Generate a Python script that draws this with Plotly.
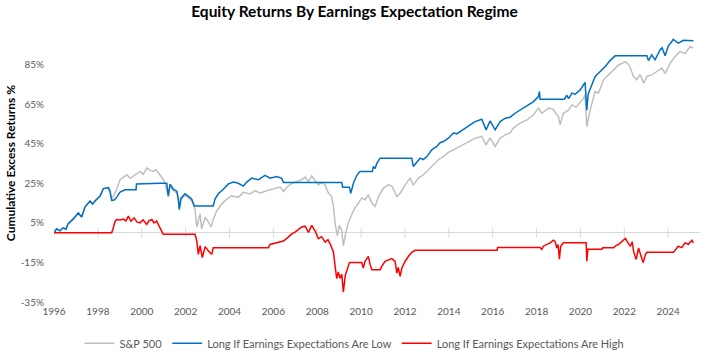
import plotly.graph_objects as go

# ---- data (decimal year, cumulative %) ----
sp_years = [1996.0, 1996.12, 1996.27, 1996.42, 1996.55, 1996.64, 1996.88, 1997.11, 1997.26, 1997.41,
            1997.64, 1997.76, 1997.87, 1998.10, 1998.25, 1998.48, 1998.55, 1998.63, 1998.70, 1998.86,
            1999.01, 1999.32, 1999.47, 1999.69, 1999.92, 2000.06, 2000.23, 2000.38, 2000.53, 2000.65,
            2000.83, 2000.98, 2001.06, 2001.21, 2001.29, 2001.44, 2001.60, 2001.67, 2001.71, 2001.79,
            2001.97, 2002.12, 2002.28, 2002.40, 2002.43, 2002.51, 2002.66, 2002.73, 2002.89, 2003.04,
            2003.16, 2003.26, 2003.42, 2003.65, 2003.88, 2004.10, 2004.40, 2004.63, 2004.94, 2005.17,
            2005.39, 2005.62, 2005.85, 2006.08, 2006.31, 2006.46, 2006.61, 2006.84, 2007.07, 2007.29,
            2007.45, 2007.60, 2007.75, 2007.90, 2008.05, 2008.20, 2008.36, 2008.51, 2008.66, 2008.74,
            2008.81, 2008.92, 2009.01, 2009.12, 2009.19, 2009.31, 2009.42, 2009.57, 2009.72, 2009.88,
            2010.03, 2010.18, 2010.33, 2010.49, 2010.64, 2010.79, 2011.02, 2011.24, 2011.41, 2011.63,
            2011.78, 2012.01, 2012.23, 2012.38, 2012.61, 2012.84, 2013.07, 2013.30, 2013.52, 2013.75,
            2013.98, 2014.21, 2014.44, 2014.66, 2014.89, 2015.20, 2015.50, 2015.70, 2015.88, 2016.11,
            2016.34, 2016.57, 2016.79, 2016.94, 2017.25, 2017.56, 2017.86, 2018.08, 2018.24, 2018.39,
            2018.54, 2018.75, 2019.00, 2019.07, 2019.22, 2019.45, 2019.61, 2019.80, 2019.99, 2020.14,
            2020.21, 2020.29, 2020.44, 2020.67, 2020.82, 2021.05, 2021.28, 2021.51, 2021.74, 2022.05,
            2022.23, 2022.42, 2022.57, 2022.72, 2022.88, 2023.03, 2023.25, 2023.48, 2023.71, 2023.86,
            2024.09, 2024.31, 2024.54, 2024.77, 2025.00, 2025.15]
sp_values = [0.0, 2.0, 1.0, 2.5, 1.8, 4.5, 7.0, 10.0, 8.0, 13.0,
             16.0, 14.5, 16.0, 18.6, 22.3, 22.8, 21.0, 17.0, 18.4, 22.0,
             26.8, 29.3, 27.5, 29.0, 31.0, 29.5, 32.7, 31.5, 31.0, 32.0,
             29.3, 27.0, 25.0, 18.0, 23.7, 21.2, 20.2, 16.2, 11.2, 16.7,
             18.9, 17.7, 16.2, 12.7, 12.0, 2.9, 9.6, 2.0, 7.9, 5.4,
             2.9, 7.0, 11.0, 14.6, 17.0, 18.7, 17.9, 20.4, 19.6, 21.3,
             20.0, 21.0, 21.7, 22.6, 23.1, 20.9, 23.0, 25.0, 25.9, 26.8,
             28.1, 25.9, 28.8, 26.5, 24.2, 25.5, 24.2, 20.0, 18.3, 13.3,
             5.0, -1.5, 3.7, 1.1, -6.5, 0.3, 5.0, 9.2, 12.6, 15.0,
             17.6, 16.7, 19.2, 15.0, 13.3, 18.3, 22.6, 24.2, 23.5, 18.3,
             20.0, 24.2, 27.6, 24.2, 27.6, 29.3, 31.8, 34.3, 36.9, 38.5,
             40.6, 41.9, 43.3, 44.4, 46.1, 47.8, 48.7, 44.4, 48.0, 43.6,
             47.8, 49.5, 50.4, 52.9, 55.4, 57.0, 59.6, 63.0, 60.4, 61.5,
             63.0, 62.5, 58.5, 54.5, 60.4, 62.0, 64.6, 63.5, 66.3, 68.0,
             69.7, 53.7, 62.0, 71.4, 70.5, 77.3, 79.8, 82.3, 84.8, 86.5,
             84.5, 79.0, 77.3, 80.0, 75.6, 79.0, 79.8, 81.5, 83.2, 80.5,
             85.7, 89.0, 91.6, 90.5, 94.1, 93.3]

low_years = [1996.0, 1996.12, 1996.27, 1996.42, 1996.55, 1996.64, 1996.88, 1997.11, 1997.26, 1997.41,
             1997.64, 1997.76, 1997.87, 1998.10, 1998.25, 1998.48, 1998.55, 1998.63, 1998.74, 1998.86,
             1999.01, 1999.24, 1999.74, 1999.76, 2000.83, 2001.14, 2001.21, 2001.29, 2001.44, 2001.60,
             2001.67, 2001.71, 2001.79, 2001.97, 2002.12, 2002.28, 2002.40, 2003.26, 2003.34, 2003.49,
             2003.72, 2003.95, 2004.18, 2004.40, 2004.63, 2004.79, 2005.01, 2005.32, 2005.62, 2005.85,
             2006.16, 2006.38, 2006.46, 2009.12, 2009.16, 2009.47, 2009.53, 2009.65, 2009.80, 2009.95,
             2010.51, 2010.56, 2010.64, 2010.72, 2010.87, 2012.31, 2012.38, 2012.54, 2012.69, 2012.83,
             2013.00, 2013.22, 2013.45, 2013.60, 2013.75, 2013.98, 2014.21, 2014.36, 2014.51, 2014.74,
             2014.97, 2015.20, 2015.50, 2015.70, 2015.88, 2016.11, 2016.34, 2016.57, 2016.79, 2017.02,
             2017.25, 2017.56, 2017.86, 2018.08, 2018.13, 2018.16, 2019.27, 2019.38, 2019.46, 2019.61,
             2019.76, 2019.99, 2020.14, 2020.21, 2020.29, 2020.35, 2020.44, 2020.67, 2020.90, 2021.13,
             2021.35, 2021.58, 2023.03, 2023.10, 2023.25, 2023.40, 2023.63, 2023.72, 2023.86, 2024.01,
             2024.16, 2024.23, 2024.46, 2024.70, 2025.15]
low_values = [0.0, 2.0, 1.0, 2.5, 1.8, 4.5, 7.0, 10.0, 8.0, 13.0,
              16.0, 14.5, 16.0, 18.6, 22.3, 22.8, 21.0, 16.3, 16.5, 18.0,
              20.5, 21.7, 21.7, 24.7, 25.0, 25.0, 18.7, 24.5, 22.0, 21.0,
              17.0, 12.0, 17.5, 19.7, 18.5, 17.0, 13.5, 13.5, 17.0, 19.7,
              22.0, 24.7, 25.6, 25.0, 23.6, 25.6, 27.6, 26.8, 29.0, 27.6,
              28.4, 27.5, 25.4, 25.4, 23.0, 23.0, 19.9, 25.0, 28.9, 30.9,
              30.9, 33.5, 32.5, 35.2, 37.7, 37.7, 33.5, 35.5, 37.7, 37.0,
              38.5, 41.9, 43.6, 45.5, 46.1, 47.8, 50.4, 50.0, 51.2, 52.9,
              54.5, 56.2, 57.4, 52.0, 56.5, 52.0, 56.2, 57.9, 58.4, 60.4,
              62.0, 64.1, 66.3, 68.8, 71.4, 67.5, 67.5, 69.5, 67.8, 70.6,
              70.0, 72.2, 74.7, 76.0, 62.0, 70.0, 72.5, 79.0, 81.5, 84.0,
              87.0, 89.4, 89.4, 87.0, 89.9, 87.4, 92.4, 93.5, 89.5, 94.5,
              96.5, 97.8, 95.8, 97.3, 97.1]

high_years = [1996.0, 1998.55, 1998.63, 1998.70, 1998.78, 1998.86, 1999.01, 1999.16, 1999.28, 1999.39,
              1999.51, 1999.65, 1999.78, 1999.92, 2000.06, 2000.23, 2000.33, 2000.46, 2000.56, 2000.68,
              2000.83, 2000.98, 2002.43, 2002.51, 2002.58, 2002.66, 2002.76, 2002.89, 2003.04, 2003.19,
              2003.26, 2005.77, 2005.85, 2006.16, 2006.46, 2006.68, 2006.84, 2006.99, 2007.29, 2007.45,
              2007.60, 2007.75, 2007.90, 2008.05, 2008.20, 2008.36, 2008.49, 2008.62, 2008.74, 2008.81,
              2008.89, 2008.96, 2009.04, 2009.12, 2009.19, 2009.28, 2009.37, 2009.47, 2010.03, 2010.10,
              2010.18, 2010.33, 2010.41, 2010.49, 2010.87, 2010.94, 2011.09, 2011.24, 2011.40, 2011.55,
              2011.63, 2011.69, 2011.78, 2011.86, 2012.01, 2012.16, 2012.31, 2012.46, 2016.20, 2016.22,
              2018.16, 2018.24, 2018.31, 2018.47, 2018.62, 2018.77, 2018.85, 2018.92, 2018.98, 2019.04,
              2019.10, 2019.22, 2020.26, 2020.29, 2020.34, 2020.98, 2021.02, 2021.51, 2021.58, 2021.74,
              2021.89, 2022.05, 2022.16, 2022.28, 2022.36, 2022.42, 2022.54, 2022.65, 2022.76, 2022.86,
              2022.96, 2023.03, 2024.24, 2024.31, 2024.46, 2024.62, 2024.77, 2024.92, 2025.08, 2025.15]
high_values = [0.0, 0.0, 0.0, 2.4, 5.7, 6.7, 6.5, 6.9, 6.0, 8.4,
               5.8, 7.5, 5.5, 5.0, 6.5, 4.2, 6.0, 6.7, 5.0, 5.9,
               2.5, -0.8, -0.8, -4.2, -10.9, -6.5, -12.6, -7.0, -9.2, -10.9,
               -7.6, -7.6, -5.9, -5.0, -4.2, -2.2, -0.6, 0.3, 2.9, 3.3,
               0.2, 3.7, 1.0, -3.0, -2.0, -4.7, -3.5, -6.4, -9.8, -16.5,
               -23.2, -19.8, -23.0, -21.0, -30.0, -21.5, -18.2, -15.0, -15.0, -17.8,
               -14.4, -11.9, -16.0, -18.7, -18.7, -17.0, -14.4, -13.6, -13.1, -14.5,
               -20.4, -17.5, -22.0, -17.8, -14.4, -11.9, -9.9, -8.9, -8.9, -7.4,
               -7.4, -8.4, -6.8, -5.9, -5.1, -3.8, -4.5, -7.7, -6.0, -13.3,
               -6.8, -5.1, -5.1, -14.4, -8.4, -8.4, -7.6, -7.6, -6.8, -5.9,
               -4.2, -2.9, -5.0, -6.8, -4.5, -9.3, -13.5, -7.7, -11.8, -15.1,
               -11.0, -9.9, -9.9, -8.9, -6.8, -7.5, -5.1, -5.8, -3.8, -5.1]

x_ticks = [1996, 1998, 2000, 2002, 2004, 2006, 2008, 2010, 2012, 2014, 2016, 2018, 2020, 2022, 2024]
y_ticks = [-35, -15, 5, 25, 45, 65, 85]
y_tick_labels = ["-35%", "-15%", "5%", "25%", "45%", "65%", "85%"]

FONT = "Lato, Open Sans, Liberation Sans, sans-serif"
GREY_TXT = "#595959"

fig = go.Figure()
fig.add_trace(go.Scatter(x=x_ticks, y=[0] * len(x_ticks), mode="markers", showlegend=False,
                         hoverinfo="skip",
                         marker=dict(symbol="line-ns", size=7, line=dict(color="#d9d9d9", width=1))))
fig.add_trace(go.Scatter(x=sp_years, y=sp_values, mode="lines", name="S&P 500",
                         line=dict(color="#BFBFBF", width=1.5)))
fig.add_trace(go.Scatter(x=low_years, y=low_values, mode="lines",
                         name="Long If Earnings Expectations Are Low",
                         line=dict(color="#0070C0", width=1.5)))
fig.add_trace(go.Scatter(x=high_years, y=high_values, mode="lines",
                         name="Long If Earnings Expectations Are High",
                         line=dict(color="#FF0000", width=1.5)))

fig.update_layout(
    width=709, height=358,
    margin=dict(l=54, r=9, t=25, b=56, autoexpand=False),
    paper_bgcolor="white", plot_bgcolor="white",
    font=dict(family=FONT, size=10, color=GREY_TXT),
    title=dict(text="<b>Equity Returns By Earnings Expectation Regime</b>",
               x=0.5, xanchor="center", y=1.0, yanchor="top", pad=dict(t=6),
               font=dict(family=FONT, size=15.5, color="#000000")),
    showlegend=True,
    legend=dict(orientation="h", xref="container", x=0.5, xanchor="center",
                y=-0.097, yanchor="top",
                font=dict(family=FONT, size=11, color=GREY_TXT),
                itemwidth=30, traceorder="normal"),
    annotations=[dict(text="<b>Cumulative Excess Returns %</b>", textangle=-90,
                      xref="paper", yref="paper", x=-0.067, y=0.5,
                      xanchor="center", yanchor="middle", showarrow=False,
                      font=dict(family=FONT, size=12, color="#000000"))],
)
fig.update_xaxes(range=[1996, 2025.45], tickvals=x_ticks, ticktext=[str(t) for t in x_ticks],
                 showgrid=False, zeroline=False, showline=False, ticks="", ticklabelstandoff=2,
                 automargin=False, tickfont=dict(size=10, color=GREY_TXT))
fig.update_yaxes(range=[-35, 105], tickvals=y_ticks, ticktext=y_tick_labels,
                 showgrid=False, zeroline=True, zerolinecolor="#d9d9d9", zerolinewidth=1,
                 showline=False, ticks="", ticklabelstandoff=9, automargin=False,
                 tickfont=dict(size=10, color=GREY_TXT))

fig.write_html("out.html", config={"displayModeBar": False},
               post_script="document.body.style.margin='0px';document.body.style.overflow='hidden';")
